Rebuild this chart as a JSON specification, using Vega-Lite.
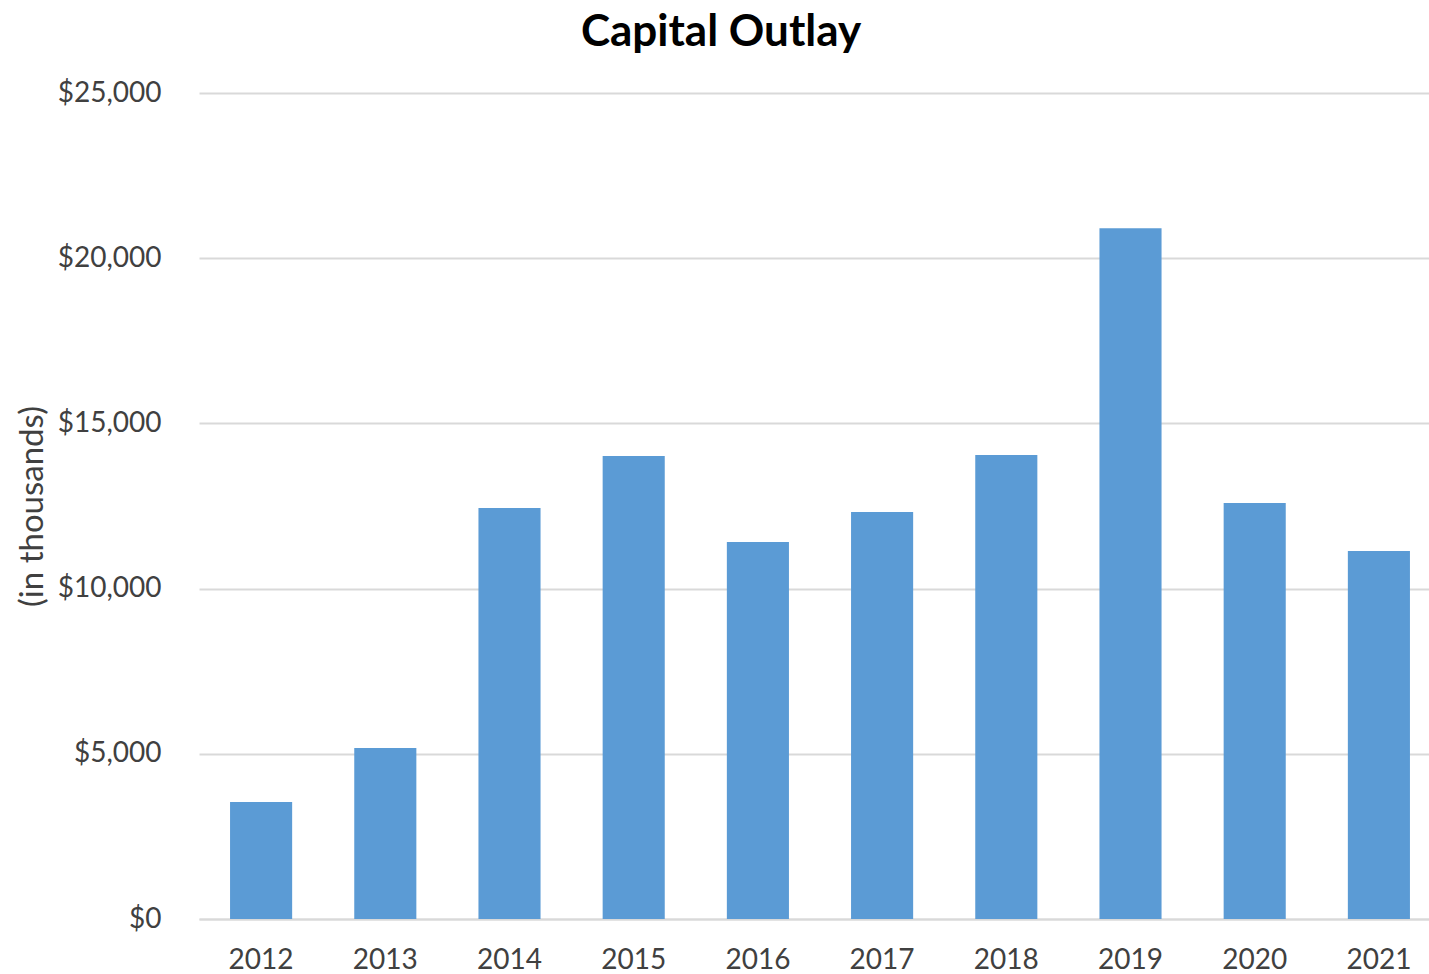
{
  "$schema": "https://vega.github.io/schema/vega-lite/v6.json",
  "autosize": {"type": "none"},
  "width": 1230,
  "height": 826,
  "padding": {"left": 199, "top": 93, "right": 0, "bottom": 55},
  "background": "white",
  "title": {
    "text": "Capital Outlay",
    "font": "Lato",
    "fontSize": 44,
    "fontWeight": "bold",
    "color": "#000000",
    "anchor": "middle",
    "dx": -93,
    "offset": 24
  },
  "data": {
    "values": [
      {"year": "2012", "value": 3540},
      {"year": "2013", "value": 5175},
      {"year": "2014", "value": 12440},
      {"year": "2015", "value": 14010},
      {"year": "2016", "value": 11410},
      {"year": "2017", "value": 12320},
      {"year": "2018", "value": 14040},
      {"year": "2019", "value": 20910},
      {"year": "2020", "value": 12590},
      {"year": "2021", "value": 11140}
    ]
  },
  "mark": {"type": "bar", "color": "#5b9bd5"},
  "encoding": {
    "x": {
      "field": "year",
      "type": "nominal",
      "scale": {"paddingInner": 0.5, "paddingOuter": 0.25, "range": [0, 1242]},
      "axis": {
        "title": null,
        "labelAngle": 0,
        "labelFont": "Lato",
        "labelFontSize": 28,
        "labelColor": "#404040",
        "labelPadding": 27,
        "ticks": false,
        "domainColor": "#d9d9d9",
        "domainWidth": 2,
        "grid": false
      }
    },
    "y": {
      "field": "value",
      "type": "quantitative",
      "scale": {"domain": [0, 25000]},
      "axis": {
        "title": "(in thousands)",
        "titleFont": "Lato",
        "titleFontSize": 33,
        "titleFontWeight": "normal",
        "titleColor": "#404040",
        "titlePadding": 8,
        "values": [0, 5000, 10000, 15000, 20000, 25000],
        "format": "$,.0f",
        "labelFont": "Lato",
        "labelFontSize": 28,
        "labelColor": "#404040",
        "labelPadding": 38,
        "ticks": false,
        "domain": false,
        "gridColor": "#d9d9d9",
        "gridWidth": 2
      }
    }
  },
  "config": {"view": {"stroke": null}}
}
